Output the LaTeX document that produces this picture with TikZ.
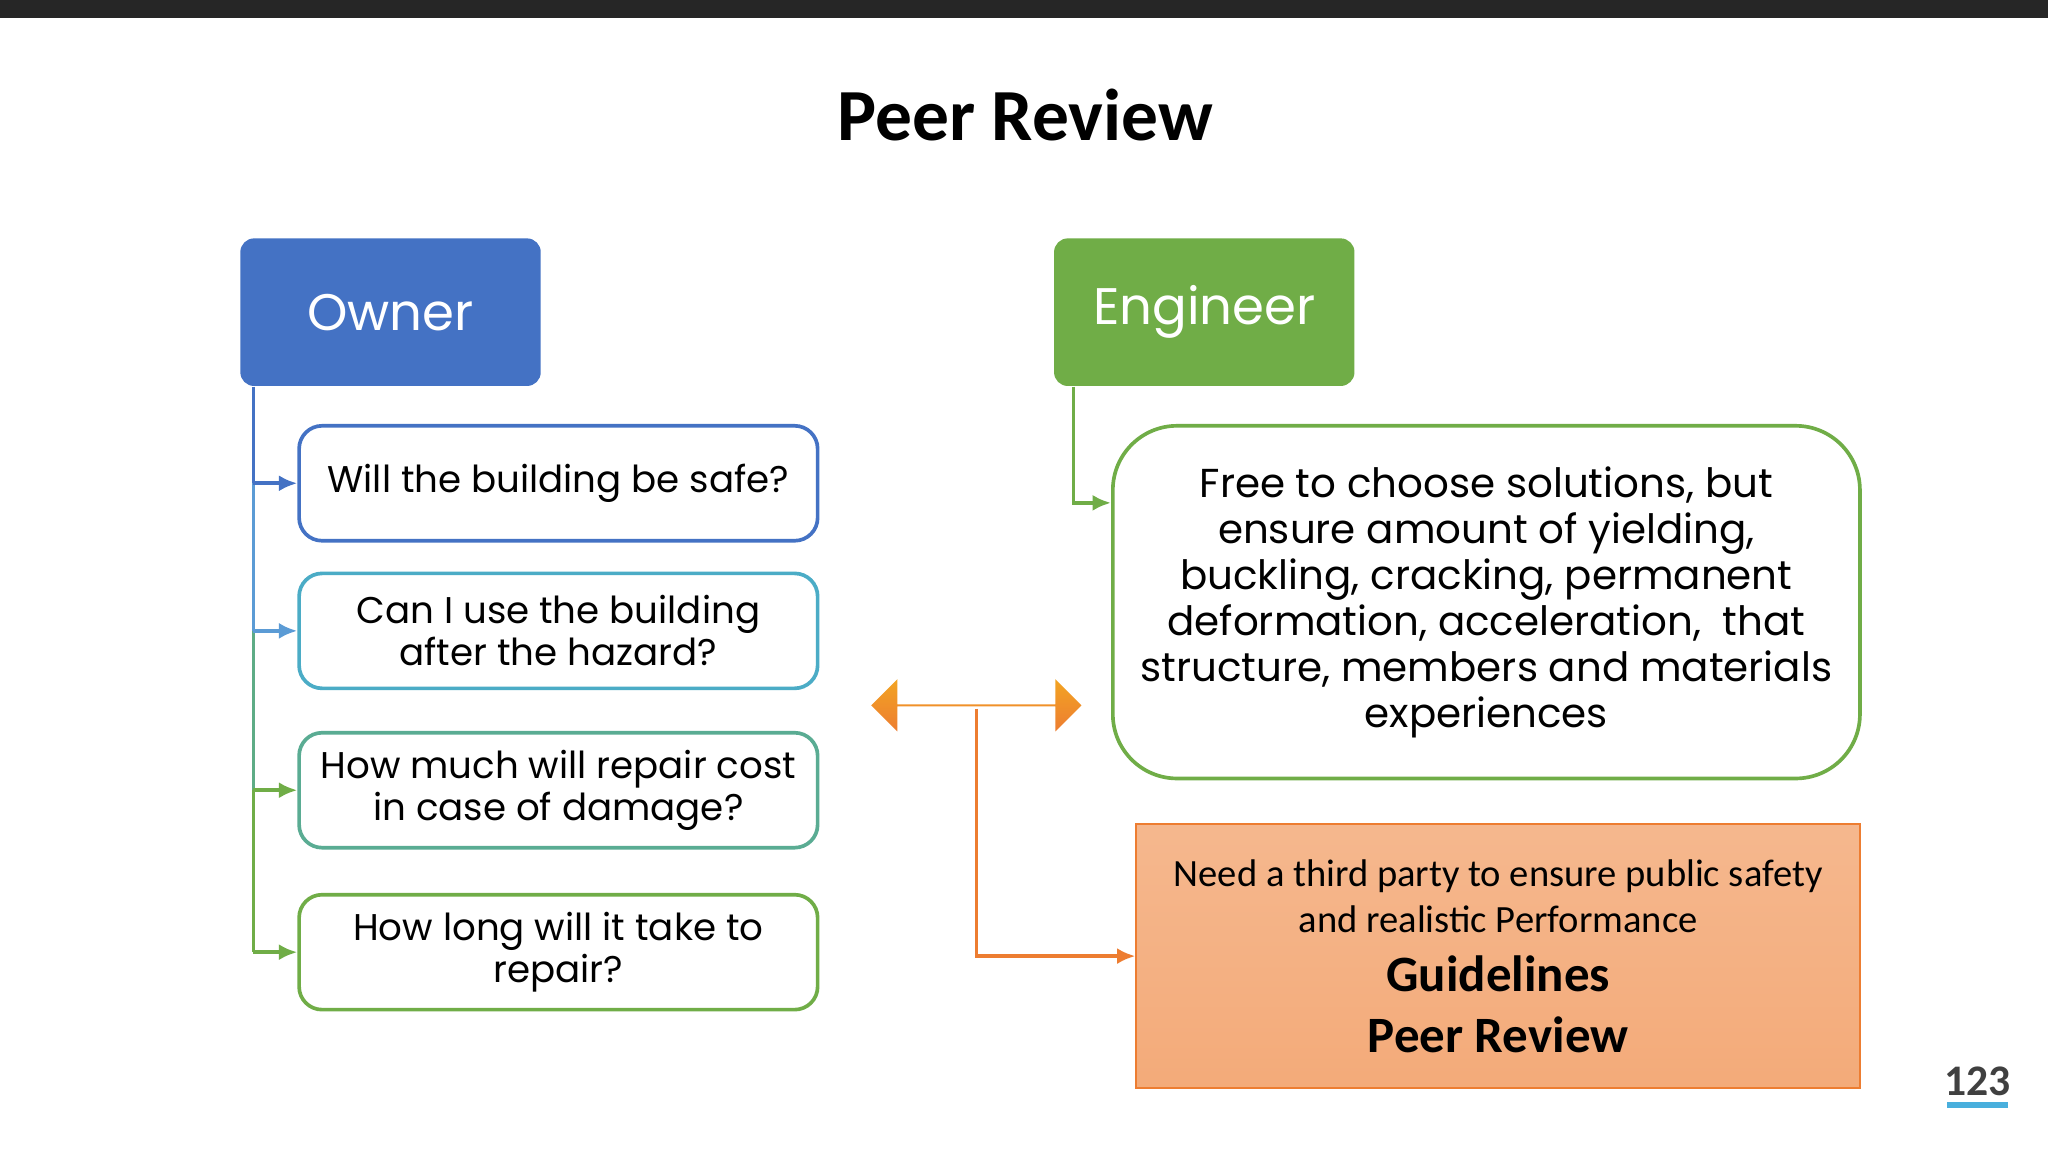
\documentclass[tikz,border=0pt]{standalone}
\usepackage{fontspec}
\setmainfont{Poppins}
\newfontfamily\calfont{Carlito}
\usetikzlibrary{shapes.arrows,arrows.meta}
\definecolor{ownblue}{HTML}{4472C4}
\definecolor{lblue}{HTML}{5B9BD5}
\definecolor{tealc}{HTML}{4BACC6}
\definecolor{engreen}{HTML}{70AD47}
\definecolor{orng}{HTML}{ED7D31}
\tikzset{
  head/.style={rounded corners=3pt, text=white, minimum width=2.3cm, minimum height=1.13cm, font=\fontsize{11.2}{13}\selectfont},
  ask/.style={draw, rounded corners=5pt, thick, minimum width=3.97cm, minimum height=0.88cm, inner sep=1pt, align=center, font=\fontsize{8.1}{9.1}\selectfont},
  tip/.style={-{Latex[length=4pt,width=3.5pt]}, thick}
}
\begin{document}
\begin{tikzpicture}[x=1cm,y=1cm]
    \useasboundingbox (0,0) rectangle (15.68,8.82);
    \fill[fill=white] (0,0) rectangle (15.68,8.82);
    \fill[black!85] (0,8.68) rectangle (15.68,8.82); % top bar
    \node[font=\calfont\bfseries\fontsize{16}{19}\selectfont] (title) at (7.85,7.94) {Peer Review};
    % Owner side
    \node[head, fill=ownblue] (owner) at (2.99,6.43) {Owner};
    \node[ask, draw=ownblue] (q1) at (4.275,5.12) {Will the building be safe?};
    \node[ask, draw=tealc] (q2) at (4.275,3.99) {Can I use the building\\after the hazard?};
    \node[ask, draw=tealc!60!engreen] (q3) at (4.275,2.77) {How much will repair cost\\in case of damage?};
    \node[ask, draw=engreen] (q4) at (4.275,1.53) {How long will it take to\\repair?};
    \coordinate (o) at (1.94,5.86);
    \draw[ownblue, thick] (o) -- (1.94,5.12);
    \draw[lblue, thick] (1.94,5.12) -- (1.94,3.99);
    \draw[tealc!50!engreen, thick] (1.94,3.99) -- (1.94,2.77);
    \draw[engreen, thick] (1.94,2.77) -- (1.94,1.53);
    \draw[tip, ownblue] (1.94,5.12) -- (q1.west);
    \draw[tip, lblue] (1.94,3.99) -- (q2.west);
    \draw[tip, engreen] (1.94,2.77) -- (q3.west);
    \draw[tip, engreen] (1.94,1.53) -- (q4.west);
    % Engineer side
    \node[head, fill=engreen] (eng) at (9.22,6.43) {Engineer};
    \node[draw=engreen, thick, rounded corners=14pt, minimum width=5.72cm, minimum height=2.7cm, inner sep=1pt, align=center,
          font=\fontsize{8.8}{10}\selectfont] (free) at (11.38,4.21)
          {Free to choose solutions, but\\ensure amount of yielding,\\buckling, cracking, permanent\\deformation, acceleration,~ that\\structure, members and materials\\experiences};
    \draw[tip, engreen] (8.22,5.86) |- (free.west |- 0,4.97);
    % peer review
    \node[double arrow, shading=axis, top color=orng!70!yellow, bottom color=orng, draw=none,
          minimum width=0.4cm, double arrow head extend=0.17cm,
          minimum height=1.61cm, inner sep=0pt] (dbl) at (7.475,3.42) {};
    \node[draw=orng, shading=axis, top color=orng!55!white, bottom color=orng!65!white, minimum width=5.54cm, minimum height=2.02cm,
          inner sep=0pt] (third) at (11.47,1.50) {};
    \node[font=\calfont\fontsize{8.4}{10}\selectfont, align=center] (need) at (11.47,1.96) {Need a third party to ensure public safety\\and realistic Performance};
    \node[font=\calfont\bfseries\fontsize{11.1}{13.4}\selectfont, align=center] (guide) at (11.47,1.13) {Guidelines\\Peer Review};
    \draw[tip, orng] (dbl.south) ++(0,-0.01) |- (third.west);
    % page number
    \node[font=\calfont\bfseries\fontsize{9.5}{11}\selectfont, text=black!75] (num) at (15.14,0.54) {123};
    \draw[lblue!80!cyan, line width=1.5pt] (14.91,0.36) -- (15.37,0.36);
\end{tikzpicture}
\end{document}
